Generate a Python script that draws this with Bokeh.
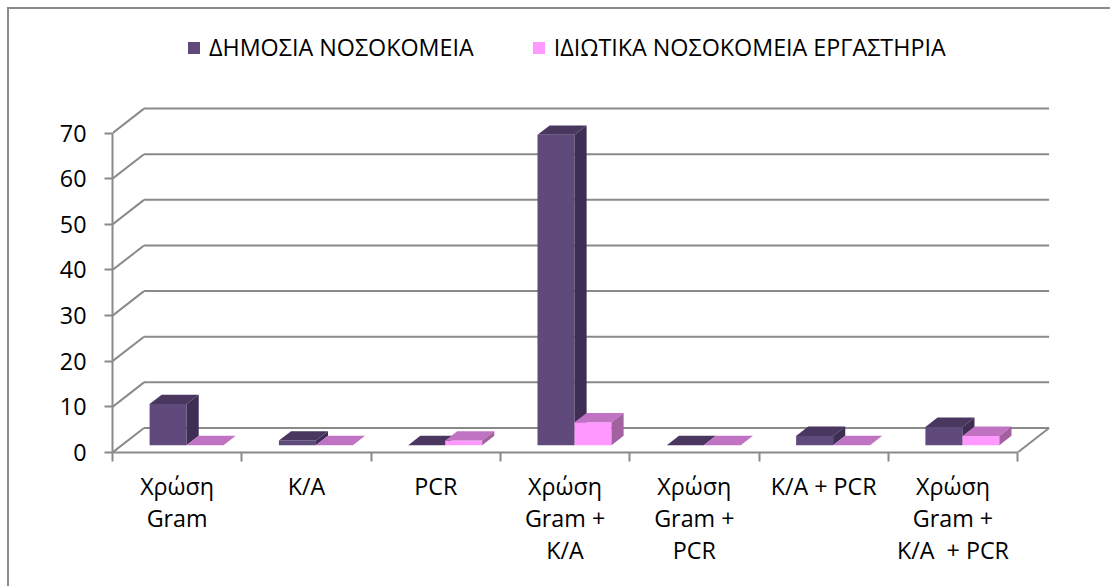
from bokeh.plotting import figure
from bokeh.embed import file_html
from bokeh.resources import INLINE
from bokeh.models import FixedTicker, Legend, LegendItem, LinearAxis, Range1d

categories = [
    "Χρώση\nGram",
    "Κ/Α",
    "PCR",
    "Χρώση\nGram +\nΚ/Α",
    "Χρώση\nGram +\nPCR",
    "Κ/Α + PCR",
    "Χρώση\nGram +\nΚ/Α \u00a0+ PCR",
]
public_hospitals = [9, 1, 0, 68, 0, 2, 4]
private_hospitals = [0, 0, 1, 5, 0, 0, 2]
series_names = ["ΔΗΜΟΣΙΑ ΝΟΣΟΚΟΜΕΙΑ", "ΙΔΙΩΤΙΚΑ ΝΟΣΟΚΟΜΕΙΑ ΕΡΓΑΣΤΗΡΙΑ"]
y_ticks = [0, 10, 20, 30, 40, 50, 60, 70]

W, H = 1110, 586
LEFT, BOTTOM = 112, H - 452
PX_CAT, PX_VAL = 129.3, 4.563
DEPTH_X, DEPTH_Y = 31.5 / PX_CAT, 24.5 / PX_VAL   # full wall depth in data units
Z0, Z1 = 0.30, 0.685                              # bar front/back as a share of depth
BAR_W = 37 / PX_CAT
GREY = "#8a8a8a"
FONT = "Open Sans"
FS = "23.3px"

p = figure(width=W, height=H, output_backend="svg", toolbar_location=None,
           x_axis_type=None, y_axis_type=None,
           x_range=Range1d(0, (W - LEFT) / PX_CAT), y_range=Range1d(0, (H - BOTTOM) / PX_VAL),
           min_border_left=LEFT, min_border_bottom=BOTTOM, min_border_top=0, min_border_right=0,
           border_fill_color=None, background_fill_color=None)
p.outline_line_color = None
p.grid.visible = False
# chart-area border: top and left edges only
p.styles = {
    "background-image": f"linear-gradient({GREY},{GREY}),linear-gradient({GREY},{GREY})",
    "background-size": "100% 2px,2px 100%",
    "background-position": "7px 7px,7px 7px",
    "background-repeat": "no-repeat",
}

# walls
n = len(categories)
p.multi_line([[DEPTH_X, n + DEPTH_X] for v in y_ticks],
             [[v + DEPTH_Y, v + DEPTH_Y] for v in y_ticks], line_color=GREY, line_width=2)
p.multi_line([[0, DEPTH_X] for v in y_ticks] + [[n, n + DEPTH_X]],
             [[v, v + DEPTH_Y] for v in y_ticks] + [[0, DEPTH_Y]], line_color=GREY, line_width=2)

# bars
def bars(values, first, front, top, side):
    left = [i + 0.5 + Z0 * DEPTH_X + first * BAR_W for i in range(n)]
    right = [l + BAR_W for l in left]
    b = Z0 * DEPTH_Y
    dx, dy = (Z1 - Z0) * DEPTH_X, (Z1 - Z0) * DEPTH_Y
    r = p.quad(left=left, right=right, bottom=[b] * n, top=[b + v for v in values],
               fill_color=front, line_color=None)
    p.patches([[l, r_, r_ + dx, l + dx] for l, r_ in zip(left, right)],
              [[b + v, b + v, b + v + dy, b + v + dy] for v in values],
              fill_color=top, line_color=None)
    p.patches([[r_, r_ + dx, r_ + dx, r_] for r_ in right],
              [[b, b + dy, b + v + dy, b + v] for v in values],
              fill_color=side, line_color=None)
    return r

r1 = bars(public_hospitals, -1, "#604a7b", "#49375f", "#3f2e54")
r2 = bars(private_hospitals, 0, "#ff99ff", "#c073c2", "#a2619f")

# axes
yax = LinearAxis(ticker=FixedTicker(ticks=y_ticks), bounds=(0, 70),
                 major_tick_in=0, major_tick_out=8, minor_tick_out=0, minor_tick_in=0,
                 major_tick_line_color=GREY, major_tick_line_width=2,
                 axis_line_color=GREY, axis_line_width=2,
                 major_label_text_font=FONT, major_label_text_font_size=FS,
                 major_label_text_color="#000000", major_label_standoff=18)
p.add_layout(yax, "left")
xax = LinearAxis(ticker=FixedTicker(ticks=list(range(n + 1))), bounds=(0, n),
                 major_tick_in=0, major_tick_out=9, minor_tick_out=0, minor_tick_in=0,
                 major_tick_line_color=GREY, major_tick_line_width=2,
                 axis_line_color=GREY, axis_line_width=2,
                 major_label_text_font_size="0px", major_label_text_color=None)
p.add_layout(xax, "below")

# category labels: an axis of their own, with ticks at the category centres
centres = [i + 0.5 for i in range(n)]
cax = LinearAxis(ticker=FixedTicker(ticks=centres), bounds=(0, n),
                 major_label_overrides=dict(zip(centres, categories)),
                 major_tick_in=0, major_tick_out=0, minor_tick_out=0, minor_tick_in=0,
                 axis_line_color=None, major_tick_line_color=None,
                 major_label_text_font=FONT, major_label_text_font_size=FS,
                 major_label_text_color="#000000", major_label_text_line_height=1.01,
                 major_label_standoff=8)
p.add_layout(cax, "below")

# legend
leg = Legend(items=[LegendItem(label=series_names[0], renderers=[r1]),
                    LegendItem(label=series_names[1], renderers=[r2])],
             orientation="horizontal", location=(74, 389), padding=0, margin=0, spacing=57,
             border_line_color=None, background_fill_color=None,
             glyph_width=15, glyph_height=15, label_standoff=8, label_height=20,
             label_text_font=FONT, label_text_font_size=FS, label_text_color="#000000")
p.add_layout(leg, "center")

open("out.html", "w").write(file_html(p, INLINE))
